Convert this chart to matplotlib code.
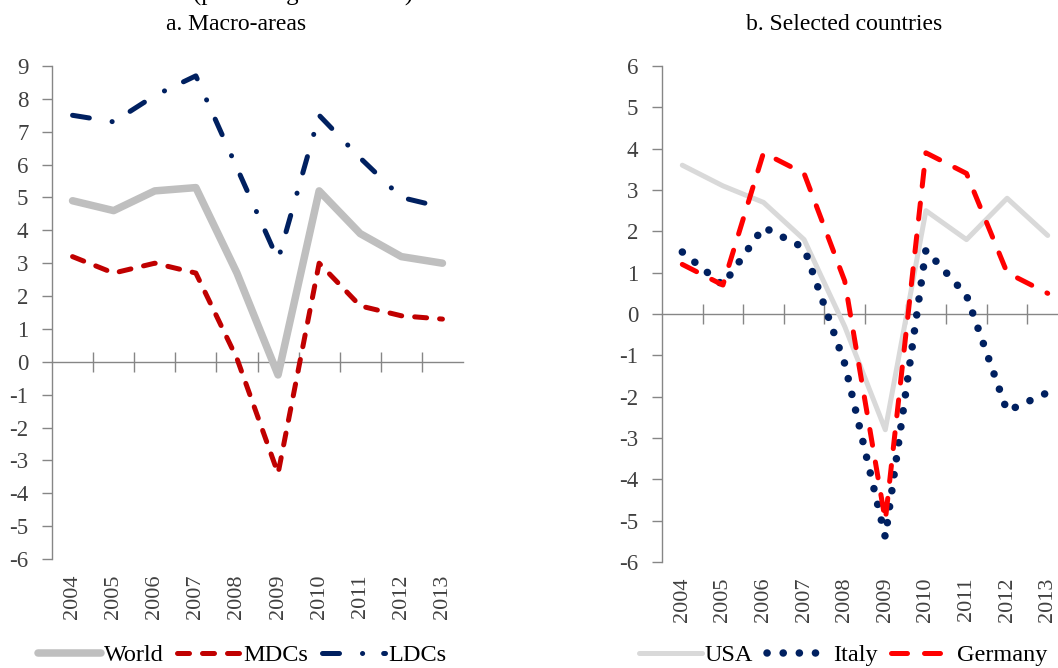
import matplotlib
matplotlib.use('Agg')
import matplotlib.pyplot as plt
import numpy as np

# ---------------- data ----------------
years = ['2004', '2005', '2006', '2007', '2008', '2009', '2010', '2011', '2012', '2013']

world = [4.9, 4.6, 5.2, 5.3, 2.7, -0.4, 5.2, 3.9, 3.2, 3.0]
mdcs = [3.2, 2.7, 3.0, 2.7, 0.1, -3.4, 3.0, 1.7, 1.4, 1.3]
ldcs = [7.5, 7.3, 8.1, 8.7, 5.9, 3.1, 7.5, 6.2, 5.0, 4.7]

usa = [3.6, 3.1, 2.7, 1.8, -0.3, -2.8, 2.5, 1.8, 2.8, 1.9]
italy = [1.5, 0.7, 2.1, 1.6, -1.2, -5.4, 1.55, 0.45, -2.35, -1.9]
germany = [1.2, 0.7, 3.9, 3.4, 0.8, -5.0, 3.9, 3.4, 1.0, 0.5]

title_a = 'a. Macro-areas'
title_b = 'b. Selected countries'
top_caption = 'GDP 2004-2013 (percentage variation)'

# ---------------- style ----------------
plt.rcParams['font.family'] = ['Liberation Serif', 'DejaVu Serif']
plt.rcParams['lines.scale_dashes'] = False
plt.rcParams['axes.unicode_minus'] = False

W, H = 1058, 668
fig = plt.figure(figsize=(W / 100, H / 100), dpi=100)


def rect(x0, y0, x1, y1):
    return [x0 / W, 1 - y1 / H, (x1 - x0) / W, (y1 - y0) / H]


AX_COL = '#868686'
TICK_COL = '#404040'
PT = 0.72  # points per pixel


def style(ax, ymin, ymax):
    n = len(years)
    x = np.arange(n)
    ax.set_xlim(-0.5, n - 0.5)
    ax.set_ylim(ymin, ymax)
    ax.set_yticks(np.arange(ymin, ymax + 1, 1))
    ax.set_xticks(x)
    ax.set_xticklabels(years, rotation=90)
    ax.tick_params(axis='x', length=0, pad=11, labelsize=16, labelcolor=TICK_COL)
    ax.tick_params(axis='y', length=7, width=1, color=AX_COL, labelsize=16.5,
                   labelcolor=TICK_COL, pad=10)
    for s in ['top', 'right', 'bottom']:
        ax.spines[s].set_visible(False)
    ax.spines['left'].set_color(AX_COL)
    ax.spines['left'].set_linewidth(1)
    ax.patch.set_visible(False)
    sec = ax.secondary_xaxis((0 - ymin) / (ymax - ymin))
    sec.set_alignment('bottom')
    sec.set_xticks(np.arange(0.5, n - 1, 1.0))
    sec.set_xticklabels([])
    sec.tick_params(axis='x', direction='inout', length=15, width=1, color=AX_COL,
                    labelbottom=False, labeltop=False)
    for s in sec.spines.values():
        s.set_color(AX_COL)
        s.set_linewidth(1)
    return x


# ---------------- left panel ----------------
axL = fig.add_axes(rect(52, 66, 463, 559))
x = style(axL, -6, 9)

lw_w = 7.5 * PT
lw_d = 5 * PT
lW, = axL.plot(x, world, color='#BFBFBF', lw=lw_w, solid_capstyle='round',
               solid_joinstyle='round', label='World')
lM, = axL.plot(x, mdcs, color='#C00000', lw=lw_d, dash_capstyle='round',
               dash_joinstyle='round', label='MDCs')
lM.set_dashes((12 * PT, 13 * PT))
lL, = axL.plot(x, ldcs, color='#002060', lw=lw_d, dash_capstyle='round',
               dash_joinstyle='round', label='LDCs')
lL.set_dashes((17 * PT, 23 * PT, 0.1, 21 * PT))

# ---------------- right panel ----------------
axR = fig.add_axes(rect(662, 66, 1068, 562))
x = style(axR, -6, 6)

lU, = axR.plot(x, usa, color='#D9D9D9', lw=5 * PT, solid_capstyle='round',
               solid_joinstyle='round', label='USA')
lI, = axR.plot(x, italy, color='#002060', lw=7.5 * PT, dash_capstyle='round',
               label='Italy')
lI.set_dashes((0.1, 16 * PT))
lG, = axR.plot(x, germany, color='#FF0000', lw=5 * PT, dash_capstyle='round',
               dash_joinstyle='round', label='Germany')
lG.set_dashes((16 * PT, 17 * PT))

# ---------------- titles ----------------
fig.text(236 / W, 1 - 24 / H, title_a, ha='center', va='center', fontsize=17)
fig.text(844 / W, 1 - 24 / H, title_b, ha='center', va='center', fontsize=17)
fig.text(413 / W, 1 - 0.5 / H, top_caption, ha='right', va='baseline', fontsize=18)

# ---------------- legends ----------------
legkw = dict(loc='center', bbox_transform=fig.transFigure, ncol=3, frameon=False,
             fontsize=17.5, handlelength=2.6, handletextpad=0.12, columnspacing=0.55,
             borderaxespad=0, borderpad=0)
axL.legend(handles=[lW, lM, lL], bbox_to_anchor=(242 / W, 1 - 655 / H), **legkw)
axR.legend(handles=[lU, lI, lG], bbox_to_anchor=(843 / W, 1 - 655 / H), **legkw)

fig.savefig('out.png', dpi=100)
